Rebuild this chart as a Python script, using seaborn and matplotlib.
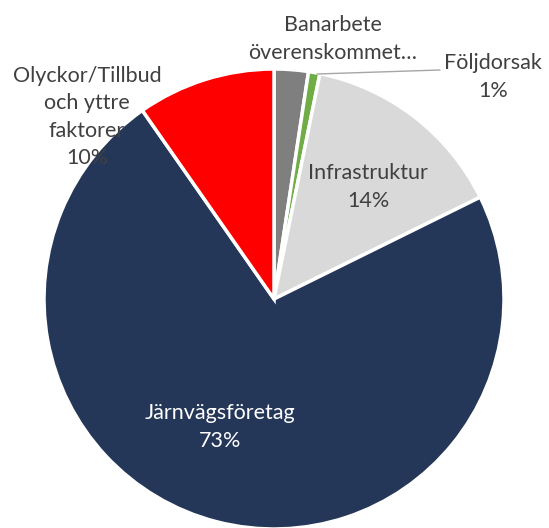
import matplotlib
matplotlib.use("Agg")
import matplotlib.pyplot as plt
import seaborn as sns

# andelar per orsak (medurs fran kl 12)
orsaker = ["Banarbete överenskommet…", "Följdorsak", "Infrastruktur",
           "Järnvägsföretag", "Olyckor/Tillbud och yttre faktorer"]
andel = [2.4, 0.8, 14.5, 72.6, 9.7]
farger = ["#7f7f7f", "#70ad47", "#d9d9d9", "#253758", "#ff0000"]

sns.set_theme(style="white")
plt.rcParams['font.family'] = ['Lato', 'DejaVu Sans']

W, H = 549, 528
fig = plt.figure(figsize=(W / 100, H / 100), dpi=100)
ax = fig.add_axes([0, 0, 1, 1])

cx, cy, r = 274, H - 299, 230
ax.pie(andel, colors=farger, startangle=90, counterclock=False,
       center=(cx, cy), radius=r, frame=True,
       wedgeprops=dict(edgecolor="white", linewidth=2.5))
ax.set_xlim(0, W)
ax.set_ylim(0, H)
ax.set_aspect("equal")
ax.axis("off")

grey = "#404040"
fs = 15.5
ls = 1.55
ax.text(333, H - 39, "Banarbete\növerenskommet…", ha="center", va="center",
        fontsize=fs, color=grey, linespacing=ls)
ax.text(493, H - 77, "Följdorsak\n1%", ha="center", va="center",
        fontsize=fs, color=grey, linespacing=ls)
ax.plot([317, 440], [H - 74, H - 70], color="#a6a6a6", lw=1)
ax.text(368, H - 187, "Infrastruktur\n14%", ha="center", va="center",
        fontsize=fs, color=grey, linespacing=ls)
ax.text(220, H - 427, "Järnvägsföretag\n73%", ha="center", va="center",
        fontsize=fs, color="white", linespacing=ls)
ax.text(87, H - 117, "Olyckor/Tillbud\noch yttre\nfaktorer\n10%", ha="center",
        va="center", fontsize=fs, color=grey, linespacing=1.45)

fig.savefig("out.png", dpi=100)
